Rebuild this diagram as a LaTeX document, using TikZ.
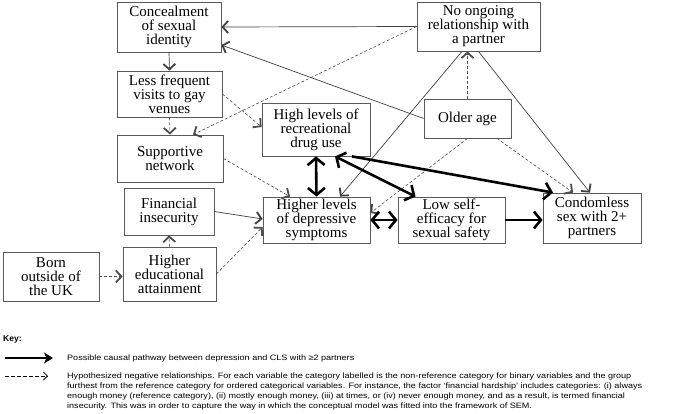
\documentclass[tikz,border=0pt]{standalone}
\usepackage{fontspec}
\newfontfamily\diag{Liberation Serif}
\newfontfamily\keyf[FakeStretch=1.16]{Liberation Sans}
\newfontfamily\keyb{Liberation Sans}
\usetikzlibrary{arrows.meta}
\begin{document}
\begin{tikzpicture}[x=1pt,y=-1pt,
  box/.style={draw=black!65, line width=0.8pt, align=center, inner sep=0pt,
    font=\diag\fontsize{15}{14}\selectfont, fill=white},
  thinline/.style={draw=black!75, line width=0.7pt,
    -{Straight Barb[length=5.5pt,width=12pt,line width=1.8pt]}},
  dashline/.style={draw=black!70, line width=0.6pt, dash pattern=on 3pt off 2pt,
    -{Straight Barb[length=5.5pt,width=12pt,line width=1.8pt]}},
  thickline/.style={draw=black, line width=2.6pt,
    -{Straight Barb[length=7pt,width=17pt,line width=2.6pt]}},
  thickboth/.style={draw=black, line width=2.6pt,
    {Straight Barb[length=7pt,width=17pt,line width=2.6pt]}-{Straight Barb[length=7pt,width=17pt,line width=2.6pt]}},
  keytext/.style={anchor=west, inner sep=0pt, font=\keyf\fontsize{7.8}{9}\selectfont}
]
\useasboundingbox[fill=white] (0,0) rectangle (677,414);

% boxes
\node[box, minimum width=104pt, minimum height=50pt] (conc) at (169,27) {Concealment\\of sexual\\identity};
\node[box, minimum width=105pt, minimum height=46pt] (less) at (169.5,94) {Less frequent\\visits to gay\\venues};
\node[box, minimum width=106pt, minimum height=47pt] (supp) at (170,158.5) {Supportive\\network};
\node[box, minimum width=90pt, minimum height=47pt] (fin) at (169,211.5) {Financial\\insecurity};
\node[box, minimum width=93pt, minimum height=54pt] (edu) at (169.5,274) {Higher\\educational\\attainment};
\node[box, minimum width=96pt, minimum height=49pt] (born) at (51,276.5) {Born\\outside of\\the UK};
\node[box, minimum width=107pt, minimum height=46pt] (dep) at (316.5,220) {Higher levels\\of depressive\\symptoms};
\node[box, minimum width=108pt, minimum height=53pt] (rec) at (316,129.5) {High levels of\\recreational\\drug use};
\node[box, minimum width=107pt, minimum height=46pt] (low) at (451.5,220) {Low self-\\efficacy for\\sexual safety};
\node[box, minimum width=98pt, minimum height=50pt] (cond) at (592,218) {Condomless\\sex with 2+\\partners};
\node[box, minimum width=123pt, minimum height=49pt] (noon) at (478.5,26.5) {No ongoing\\relationship with\\a partner};
\node[box, minimum width=87pt, minimum height=39pt] (old) at (467.5,118.5) {Older age};

% thin solid
\draw[thinline] (noon.west) -- (conc.east);
\draw[thinline] (old.west) -- ([yshift=-18pt]conc.east);
\draw[thinline] (conc.south) -- (less.north);
\draw[thinline] (fin.east) -- ([yshift=1pt]dep.west);
\draw[thinline] ([xshift=-16.5pt]noon.south) -- ([xshift=23.5pt]dep.north);
\draw[thinline] (noon.south) -- ([xshift=-2pt]cond.north);

% dashed
\draw[dashline] (noon.west) -- ([xshift=23pt]supp.north);
\draw[dashline] (less.south) -- (supp.north);
\draw[dashline] (less.east) -- ([yshift=2.5pt]rec.west);
\draw[dashline] (supp.east) -- ([xshift=-26.5pt]dep.north);
\draw[dashline] (edu.north) -- (fin.south);
\draw[dashline] (born.east) -- (born.east -| edu.west);
\draw[dashline] (edu.east) -- ([yshift=-7pt]dep.west);
\draw[dashline] (old.north) -- (old.north |- noon.south);
\draw[dashline] ([xshift=29.5pt]old.south) -- ([xshift=-19pt]cond.north);
\draw[dashline] (old.south) -- ([yshift=7pt]dep.east);

% thick
\draw[thickboth] (rec.south) -- (dep.north);
\draw[thickboth] ([xshift=19pt]rec.south) -- ([xshift=-36pt]low.north);
\draw[thickline] ([xshift=36pt]rec.south) -- ([xshift=-39pt]cond.north);
\draw[thickboth] (dep.east) -- (low.west);
\draw[thickline] (low.east) -- (cond.west |- low.east);

% key
\node[anchor=west, inner sep=0pt, font=\keyb\bfseries\fontsize{8.5}{9}\selectfont] (keyt) at (3,339) {Key:};
\coordinate (k1a) at (5,358);
\coordinate (k1b) at (53,358);
\coordinate (k2a) at (5,376);
\coordinate (k2b) at (48,376);
\draw[line width=2.4pt, -{Stealth[length=9pt,width=11pt,inset=2.5pt]}] (k1a) -- (k1b);
\draw[line width=0.8pt, dash pattern=on 3.5pt off 2.5pt, -{Straight Barb[length=4pt,width=8pt,line width=0.8pt]}] (k2a) -- (k2b);
\node[keytext] (kl0) at (67,358) {Possible causal pathway between depression and CLS with ≥2 partners};
\node[keytext] (kl1) at (67,376) {Hypothesized negative relationships. For each variable the category labelled is the non-reference category for binary variables and the group};
\node[keytext] (kl2) at (67,386) {furthest from the reference category for ordered categorical variables. For instance, the factor ‘financial hardship’ includes categories: (i) always};
\node[keytext] (kl3) at (67,396) {enough money (reference category), (ii) mostly enough money, (iii) at times, or (iv) never enough money, and as a result, is termed financial};
\node[keytext] (kl4) at (67,406) {insecurity. This was in order to capture the way in which the conceptual model was fitted into the framework of SEM.};
\end{tikzpicture}
\end{document}
